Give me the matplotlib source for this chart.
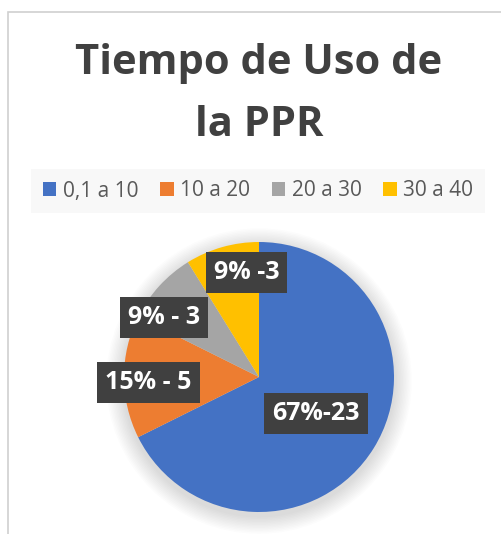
"""
Pie chart: Tiempo de Uso de la PPR
"""

import numpy as np
import matplotlib.pyplot as plt
from matplotlib.patches import Rectangle, Circle

categories = ["0,1 a 10", "10 a 20", "20 a 30", "30 a 40"]
counts = [23, 5, 3, 3]
labels = ["67%-23", "15% - 5", "9% - 3", "9% -3"]
colors = ["#4472C4", "#ED7D31", "#A5A5A5", "#FFC000"]

# label placement (fraction of radius along the wedge, angle nudge in degrees)
label_r = [0.50, 0.82, 0.83, 0.78]
label_dang = [-1, 3, 10, -9]

W, H = 501, 534
fig = plt.figure(figsize=(W / 100, H / 100), dpi=100)
plt.rcParams['font.family'] = ['Open Sans', 'DejaVu Sans']

# chart frame (only the left and top edges are visible)
fig.add_artist(Rectangle((8 / W, -0.2), 2, (H - 12) / H + 0.2, transform=fig.transFigure,
                         fill=False, ec='#d0d0d0', lw=1.2))

# pie axes: centre (259, 377) px, radius 135 px
cx, cy, R = 259, 377, 135
ax = fig.add_axes([(cx - R) / W, (H - cy - R) / H, 2 * R / W, 2 * R / H])

wedges, _ = ax.pie(counts, colors=colors, startangle=90, counterclock=False, radius=1,
                   wedgeprops=dict(linewidth=0))
for w in wedges:
    w.set_zorder(2)

ax.set_xlim(-1, 1)
ax.set_ylim(-1, 1)
ax.set_aspect('equal')
ax.axis('off')

# soft shadow
for k in range(12):
    ax.add_patch(Circle((0, -0.03), 1.0 + 0.011 * (12 - k), color='black', alpha=0.012,
                        lw=0, zorder=0, clip_on=False))

for w, lab, r, da in zip(wedges, labels, label_r, label_dang):
    ang = np.deg2rad((w.theta1 + w.theta2) / 2 + da)
    ax.text(r * np.cos(ang), r * np.sin(ang), lab, ha='center', va='center',
            fontsize=18, fontweight='bold', color='white', zorder=5,
            bbox=dict(boxstyle='square,pad=0.32', fc='#404040', ec='none'))

fig.text(259 / W, 1 - 63 / H, "Tiempo de Uso de", ha='center', va='center',
         fontsize=30, fontweight='bold', color='#404040')
fig.text(259 / W, 1 - 125 / H, "la PPR", ha='center', va='center',
         fontsize=30, fontweight='bold', color='#404040')

handles = [Rectangle((0, 0), 1, 1, fc=c, ec='none') for c in colors]
leg = fig.legend(handles, categories, loc='center', bbox_to_anchor=(258 / W, 1 - 191 / H),
                 ncol=4, frameon=True, fontsize=15, handlelength=0.65, handleheight=0.65,
                 handletextpad=0.3, columnspacing=1.05, borderpad=0.55)
leg.get_frame().set_facecolor('#f7f7f7')
leg.get_frame().set_edgecolor('none')
leg.get_frame().set_boxstyle('square', pad=0)
for t in leg.get_texts():
    t.set_color('#595959')

fig.savefig('out.png', dpi=100)
